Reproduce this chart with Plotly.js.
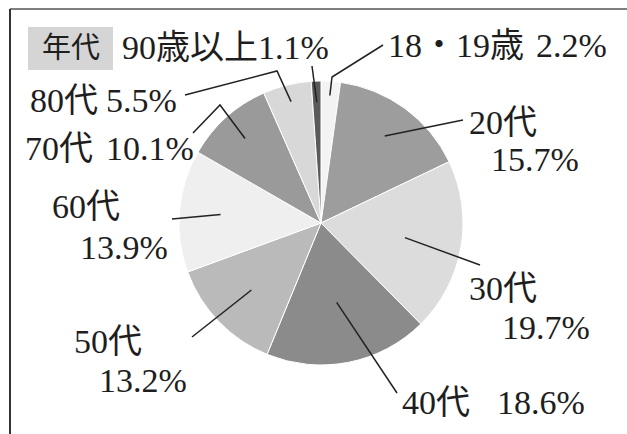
<!DOCTYPE html>
<html>
<head>
<meta charset="utf-8">
<script src="https://cdn.plot.ly/plotly-3.0.1.min.js"></script>
<style>html,body{margin:0;padding:0;background:#fff;}#chart{width:627px;height:434px;}</style>
</head>
<body>
<div id="chart"></div>
<script>
// ---- data ----
const categories = ['18・19歳','20代','30代','40代','50代','60代','70代','80代','90歳以上'];
const values = [2.2, 15.7, 19.7, 18.6, 13.2, 13.9, 10.1, 5.5, 1.1];
const valueLabels = values.map(v => v.toFixed(1) + '%');
const legendTitle = '年代';

// ---- styling / layout geometry (pixels in a 627x434 page) ----
const W = 627, H = 434;
const sliceColors = ['#f3f3f3','#9d9d9d','#dcdcdc','#8b8b8b','#bababa','#efefef','#9a9a9a','#d8d8d8','#5a5a5a'];
const pieCenter = [321, 223];
const pieRadius = 142;
const namePos  = [[386,46],[467,122],[467,288],[400,402],[72,341],[50,206],[23,148],[28,100],[120,47]];
const valuePos = [[534,46],[489,160],[500,327],[495,402],[97,380],[78,247],[104,148],[104,100],[256,47]];
const leaderOuter = [[383,45],[463,120],[480,265],[397,393],[192,337],[172,219],[193,133],[185,95],[312,66]];
const leaderElbow = [[332,77],null,null,null,null,null,[220,105],[277,71],null];
const leaderFrac = [0.9, 0.76, 0.6, 0.57, 0.68, 0.71, 0.8, 0.88, 0.85];

const FONT = 'Liberation Serif, Noto Sans CJK JP, serif';
const px = x => x / W;
const py = y => 1 - y / H;

// mid angle of each slice (clockwise from 12 o'clock)
const total = values.reduce((a, b) => a + b, 0);
let cum = 0;
const midAngles = values.map(v => { const a = (cum + v / 2) / total * 2 * Math.PI; cum += v; return a; });

const annotations = [];
const shapes = [];

// frame
shapes.push({type:'line', xref:'paper', yref:'paper', x0:px(10), y0:py(9), x1:px(W+5), y1:py(9), line:{color:'#555', width:1.5}});
shapes.push({type:'line', xref:'paper', yref:'paper', x0:px(10), y0:py(9), x1:px(10), y1:py(H+5), line:{color:'#333', width:2}});
// legend title box
shapes.push({type:'rect', xref:'paper', yref:'paper', x0:px(28), y0:py(70), x1:px(113), y1:py(27), fillcolor:'#d5d5d5', line:{width:0}, layer:'below'});
annotations.push({xref:'paper', yref:'paper', x:px(70.5), y:py(48), text:legendTitle, showarrow:false,
  xanchor:'center', yanchor:'middle', font:{family:FONT, size:29, color:'#1e1e1e'}});

categories.forEach((c, i) => {
  annotations.push({xref:'paper', yref:'paper', x:px(namePos[i][0]), y:py(namePos[i][1]), text:c, showarrow:false,
    xanchor:'left', yanchor:'middle', font:{family:FONT, size:34, color:'#1e1e1e'}});
  annotations.push({xref:'paper', yref:'paper', x:px(valuePos[i][0]), y:py(valuePos[i][1]), text:valueLabels[i], showarrow:false,
    xanchor:'left', yanchor:'middle', font:{family:FONT, size:34, color:'#1e1e1e'}});
  const a = midAngles[i];
  const ix = pieCenter[0] + pieRadius * leaderFrac[i] * Math.sin(a);
  const iy = pieCenter[1] - pieRadius * leaderFrac[i] * Math.cos(a);
  let path = 'M ' + px(leaderOuter[i][0]) + ' ' + py(leaderOuter[i][1]);
  if (leaderElbow[i]) path += ' L ' + px(leaderElbow[i][0]) + ' ' + py(leaderElbow[i][1]);
  path += ' L ' + px(ix) + ' ' + py(iy);
  shapes.push({type:'path', xref:'paper', yref:'paper', path:path, line:{color:'#222', width:1.5}});
});

const trace = {
  type:'pie', labels:categories, values:values, sort:false, direction:'clockwise', rotation:0,
  textinfo:'none', hoverinfo:'none',
  marker:{colors:sliceColors, line:{color:'#ffffff', width:1}},
  domain:{x:[px(pieCenter[0]-pieRadius), px(pieCenter[0]+pieRadius)], y:[py(pieCenter[1]+pieRadius), py(pieCenter[1]-pieRadius)]}
};

const layout = {
  width:W, height:H, margin:{l:0, r:0, t:0, b:0}, showlegend:false,
  paper_bgcolor:'#ffffff', plot_bgcolor:'#ffffff',
  annotations:annotations, shapes:shapes
};

Plotly.newPlot('chart', [trace], layout, {displayModeBar:false, staticPlot:true});
</script>
</body>
</html>
